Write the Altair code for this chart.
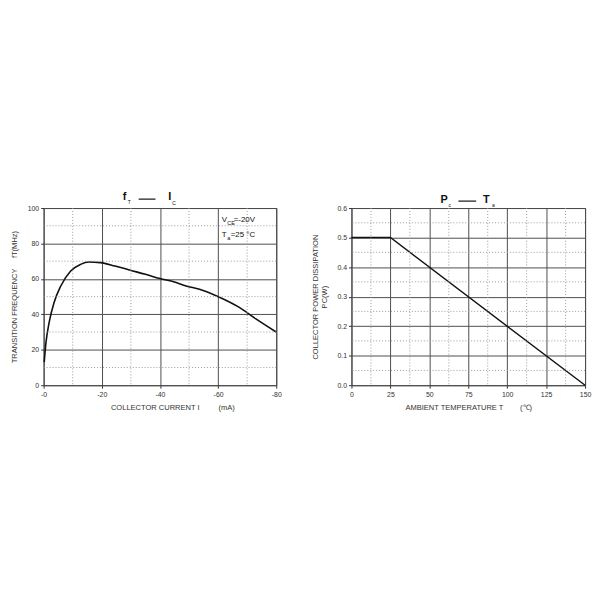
import altair as alt
import pandas as pd

# Left chart: fT vs IC
ic_ma = [-0.2, -0.8, -1.9, -3.6, -5.9, -9.3, -12.7, -15.6, -19.5, -24.5, -29.8, -35, -40, -45, -49, -53.6, -59.9, -67.3, -73, -80]
ft_mhz = [13, 24, 35.5, 46.7, 56, 64.5, 68.2, 69.5, 69.2, 67.3, 64.9, 62.6, 60.2, 58.2, 56, 54.2, 50.1, 43.9, 37.4, 30]

# Right chart: Pc vs Ta
ta_c = [0, 25, 150]
pc_w = [0.5, 0.5, 0.0]

left_x_major = [0, -20, -40, -60, -80]
left_x_minor = [-10, -30, -50, -70]
left_y_major = [0, 20, 40, 60, 80, 100]
left_y_minor = [10, 30, 50, 70, 90]

right_x_major = [0, 25, 50, 75, 100, 125, 150]
right_x_minor = [12.5, 37.5, 62.5, 87.5, 112.5, 137.5]
right_y_major = [0, 0.1, 0.2, 0.3, 0.4, 0.5, 0.6]
right_y_minor = [0.05, 0.15, 0.25, 0.35, 0.45, 0.55]

FONT = "Liberation Sans"
W, H = 235, 179
GRID = "#4d4d4d"
MINOR = "#9a9a9a"
NB = "\u00a0"
TFS = 7.6

def axis_x(values, title, label_expr=None, fmt=None, title_x=None):
    kw = dict(values=values, title=title, grid=True, gridColor=GRID, gridWidth=1,
              domain=False, ticks=True, tickSize=3, tickColor="#333", labelFont=FONT, labelFontSize=7,
              labelColor="#333", titleFont=FONT, titleFontSize=TFS, titleFontWeight="normal",
              titleColor="#333", titlePadding=7, labelPadding=2)
    if label_expr:
        kw["labelExpr"] = label_expr
    if fmt:
        kw["format"] = fmt
    if title_x is not None:
        kw["titleX"] = title_x
    return alt.Axis(**kw)

def axis_y(values, title, fmt=None, title_pad=10):
    kw = dict(values=values, title=title, grid=True, gridColor=GRID, gridWidth=1,
              domain=False, ticks=True, tickSize=3, tickColor="#333", labelFont=FONT, labelFontSize=7,
              labelColor="#333", titleFont=FONT, titleFontSize=TFS, titleFontWeight="normal",
              titleColor="#333", titlePadding=title_pad, labelPadding=2)
    if fmt:
        kw["format"] = fmt
    return alt.Axis(**kw)

def minor_rules(xvals, yvals, xscale, yscale, xaxis, yaxis, xf, yf):
    xr = alt.Chart(pd.DataFrame({xf: xvals})).mark_rule(
        color=MINOR, strokeDash=[1, 2], strokeWidth=1).encode(
        x=alt.X(f"{xf}:Q", scale=xscale, axis=xaxis))
    yr = alt.Chart(pd.DataFrame({yf: yvals})).mark_rule(
        color=MINOR, strokeDash=[1, 2], strokeWidth=1).encode(
        y=alt.Y(f"{yf}:Q", scale=yscale, axis=yaxis))
    return [xr, yr]

def txt(s, x, y, size=7, weight="normal"):
    return alt.Chart(pd.DataFrame({"t": [s]})).mark_text(
        font=FONT, fontSize=size, fontWeight=weight, color="#111", align="left", baseline="alphabetic"
    ).encode(x=alt.value(x), y=alt.value(y), text="t:N")

def dash(x1, x2, y):
    return alt.Chart(pd.DataFrame({"a": [0]})).mark_rule(color="#111", strokeWidth=1.2).encode(
        x=alt.value(x1), x2=alt.value(x2), y=alt.value(y))

# ---------- left ----------
lxs = alt.Scale(domain=[0, -80], nice=False, zero=False)
lys = alt.Scale(domain=[0, 100], nice=False)
lxa = axis_x(left_x_major, "COLLECTOR CURRENT I" + NB * 9 + "(mA)",
             label_expr="'-' + abs(datum.value)", title_x=130)
lya = axis_y(left_y_major, "TRANSITION FREQUENCY" + NB * 5 + "fT(MHz)", title_pad=9)

left_df = pd.DataFrame({"ic": ic_ma, "ft": ft_mhz})
left_line = alt.Chart(left_df).mark_line(color="#111", strokeWidth=1.6, interpolate="monotone").encode(
    x=alt.X("ic:Q", scale=lxs, axis=lxa),
    y=alt.Y("ft:Q", scale=lys, axis=lya),
    order=alt.Order("ic_ord:Q"),
).transform_calculate(ic_ord="-datum.ic")

left = alt.layer(
    left_line,
    *minor_rules(left_x_minor, left_y_minor, lxs, lys, lxa, lya, "ic", "ft"),
    txt("f", 80, -8, 11, "bold"), txt("T", 85, -4, 5),
    dash(96, 113, -9),
    txt("I", 126, -8, 11, "bold"), txt("C", 130, -3, 5),
    txt("V", 180, 14, 8), txt("CE", 185.5, 17, 5.5), txt("=-20V", 192, 14, 8),
    txt("T", 180, 29, 8), txt("a", 185.5, 32, 5.5), txt("=25 °C", 189, 29, 8),
).properties(width=W, height=H)

# ---------- right ----------
rxs = alt.Scale(domain=[0, 150], nice=False)
rys = alt.Scale(domain=[0, 0.6], nice=False)
rxa = axis_x(right_x_major, "AMBIENT TEMPERATURE T" + NB * 8 + "(\u2103)")
rya = axis_y(right_y_major, ["COLLECTOR POWER DISSIPATION", "PC(W)"], fmt=".1f", title_pad=8)

right_df = pd.DataFrame({"ta": ta_c, "pc": pc_w})
right_line = alt.Chart(right_df).mark_line(color="#111", strokeWidth=1.4).encode(
    x=alt.X("ta:Q", scale=rxs, axis=rxa),
    y=alt.Y("pc:Q", scale=rys, axis=rya),
)

right = alt.layer(
    right_line,
    *minor_rules(right_x_minor, right_y_minor, rxs, rys, rxa, rya, "ta", "pc"),
    txt("P", 90, -5, 11, "bold"), txt("c", 98, -1, 5),
    dash(108, 126, -7),
    txt("T", 133, -5, 11, "bold"), txt("a", 142, -1, 5),
).properties(width=W + 1, height=H)

chart = alt.hconcat(left, right, spacing=29).configure_view(
    stroke="#333", strokeWidth=1
).configure_axis(
    labelFlush=False
).properties(
    padding={"top": 182, "left": 1, "right": 0, "bottom": 0},
    background="white",
)

chart.save("out.html", embed_options={"renderer": "svg", "actions": False})
